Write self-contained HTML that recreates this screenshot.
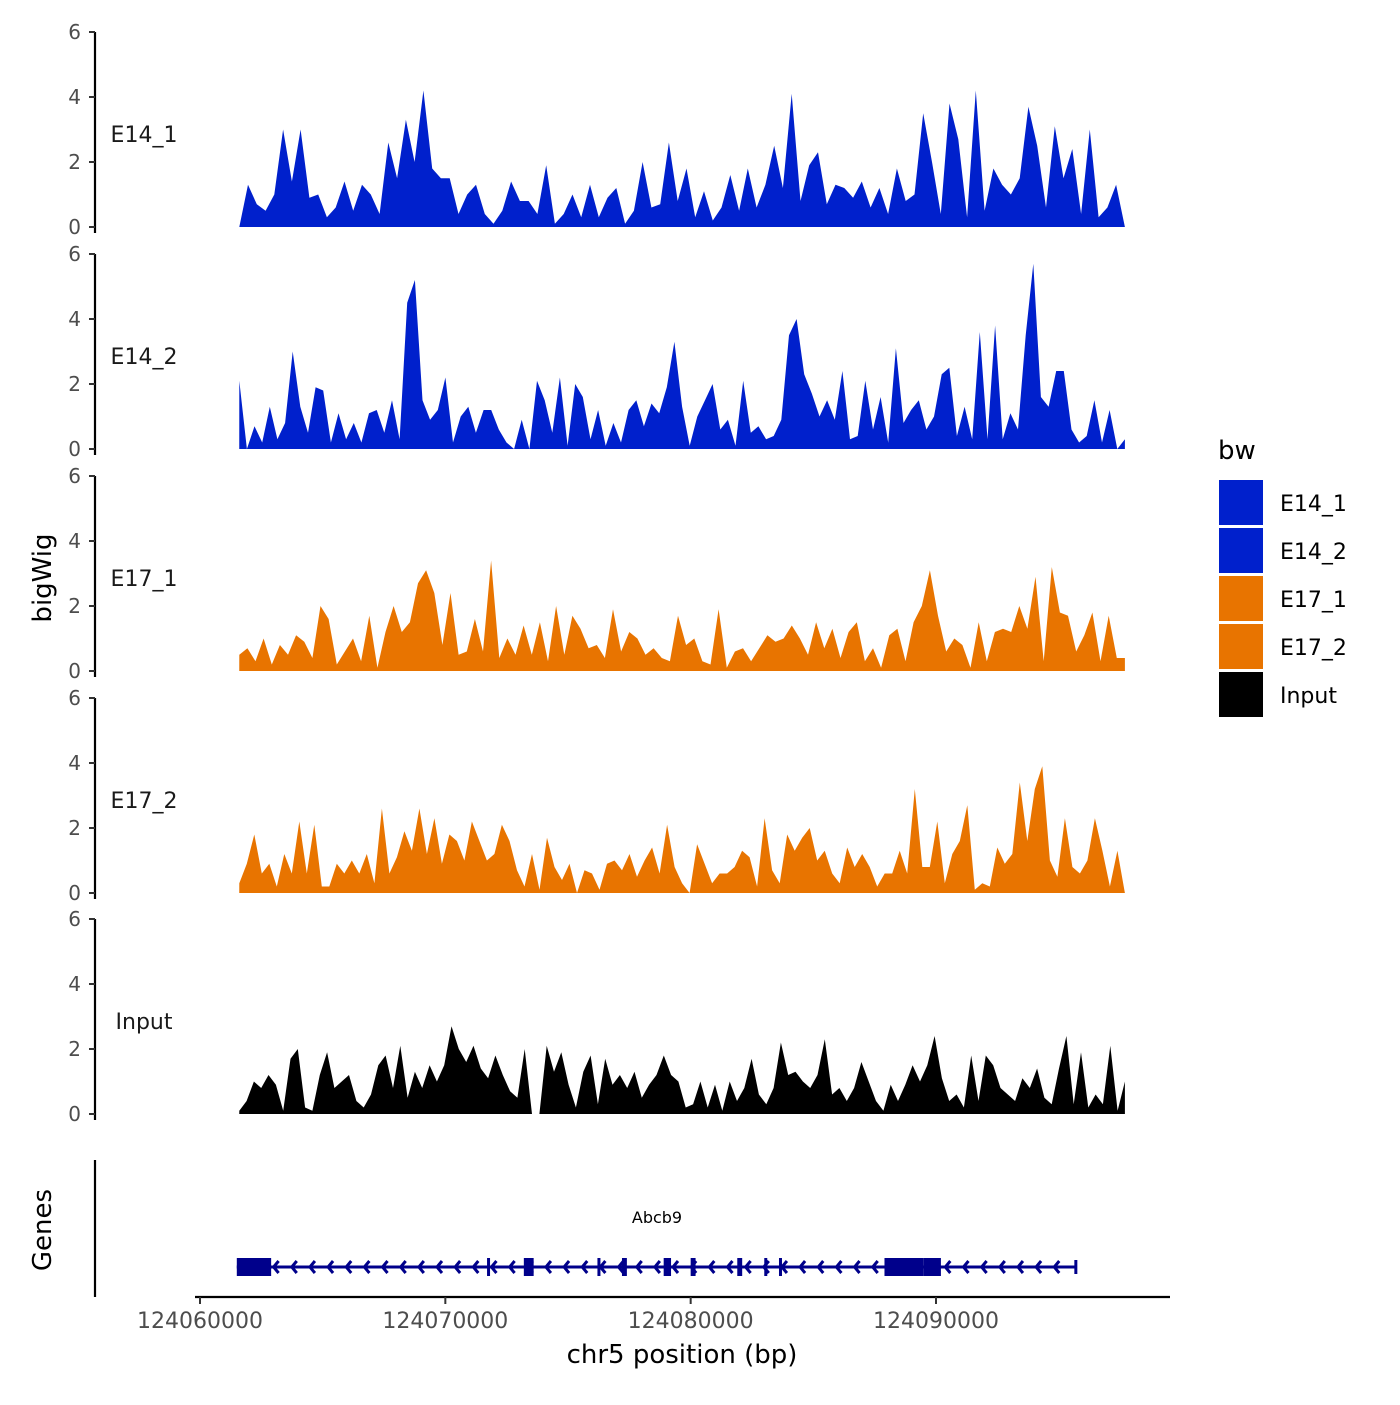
<!DOCTYPE html>
<html><head><meta charset="utf-8"><style>
body{margin:0;background:#fff;}
svg text{font-family:"DejaVu Sans","Liberation Sans",sans-serif;}
</style></head><body>
<svg id="chart" width="1400" height="1400" xmlns="http://www.w3.org/2000/svg">
<g id="tracks"></g>
<g id="genes"></g>
<g id="xaxis"></g>
<text x="51" y="578" font-size="26" text-anchor="middle" transform="rotate(-90 51 578)">bigWig</text>
<text x="51" y="1230" font-size="26" text-anchor="middle" transform="rotate(-90 51 1230)">Genes</text>
<text x="682" y="1363" font-size="26" text-anchor="middle">chr5 position (bp)</text>
<g id="legend"></g>
</svg>
<script>
const trackNames = ["E14_1","E14_2","E17_1","E17_2","Input"];
const trackColors = ["#0020CC","#0020CC","#E87400","#E87400","#000000"];
const yTicks = [0,2,4,6];
const xTicks = [124060000,124070000,124080000,124090000];
const xTickLabels = ["124060000","124070000","124080000","124090000"];
const dataStart = 124061600, dataEnd = 124097700;
const e14_1 = [0,1.3,0.7,0.5,1,3,1.4,3,0.9,1,0.3,0.6,1.4,0.5,1.3,1,0.4,2.6,1.5,3.3,2,4.2,1.8,1.5,1.5,0.4,1,1.3,0.4,0.1,0.5,1.4,0.8,0.8,0.4,1.9,0.1,0.4,1,0.3,1.3,0.3,0.9,1.2,0.1,0.5,2,0.6,0.7,2.6,0.8,1.8,0.3,1.1,0.2,0.6,1.6,0.5,1.8,0.6,1.3,2.5,1.2,4.1,0.8,1.9,2.3,0.7,1.3,1.2,0.9,1.4,0.6,1.2,0.4,1.8,0.8,1,3.5,2,0.4,3.8,2.7,0.3,4.2,0.5,1.8,1.3,1,1.5,3.7,2.5,0.6,3.1,1.5,2.4,0.4,3,0.3,0.6,1.3,0];
const e14_2 = [2.1,0,0.7,0.2,1.3,0.3,0.8,3,1.3,0.5,1.9,1.8,0.2,1.1,0.3,0.8,0.2,1.1,1.2,0.5,1.5,0.3,4.5,5.2,1.5,0.9,1.2,2.2,0.2,1,1.3,0.5,1.2,1.2,0.6,0.2,0,0.9,0,2.1,1.5,0.5,2.2,0.1,2,1.6,0.3,1.2,0.1,0.8,0.2,1.2,1.5,0.7,1.4,1.1,1.9,3.3,1.3,0.1,1,1.5,2,0.6,0.9,0.1,2.1,0.5,0.7,0.3,0.4,0.9,3.5,4,2.3,1.7,1,1.5,0.9,2.4,0.3,0.4,2.1,0.6,1.6,0.2,3.1,0.8,1.2,1.5,0.6,1,2.3,2.5,0.4,1.3,0.3,3.6,0.3,3.8,0.3,1.1,0.6,3.5,5.7,1.6,1.3,2.4,2.4,0.6,0.2,0.4,1.5,0.2,1.2,0,0.3];
const e17_1 = [0.5,0.7,0.3,1,0.2,0.8,0.5,1.1,0.9,0.4,2,1.6,0.2,0.6,1,0.3,1.7,0.1,1.2,2,1.2,1.5,2.7,3.1,2.4,0.8,2.4,0.5,0.6,1.6,0.6,3.4,0.4,1,0.5,1.4,0.5,1.5,0.3,2,0.5,1.7,1.3,0.7,0.8,0.4,1.9,0.6,1.2,1,0.5,0.7,0.4,0.3,1.7,0.8,1,0.3,0.2,1.9,0.1,0.6,0.7,0.3,0.7,1.1,0.9,1,1.4,1,0.5,1.5,0.7,1.3,0.4,1.2,1.5,0.3,0.7,0.1,1.1,1.3,0.3,1.5,2,3.1,1.7,0.6,1,0.8,0.1,1.5,0.3,1.2,1.3,1.2,2,1.3,2.9,0.3,3.2,1.8,1.7,0.6,1.1,1.8,0.3,1.7,0.4,0.4];
const e17_2 = [0.3,0.9,1.8,0.6,0.9,0.2,1.2,0.6,2.2,0.6,2.1,0.2,0.2,0.9,0.6,1,0.6,1.2,0.3,2.6,0.6,1.1,1.9,1.3,2.6,1.2,2.3,0.9,1.8,1.6,1,2.2,1.6,1,1.2,2.1,1.6,0.7,0.2,1.2,0.1,1.7,0.8,0.4,0.9,0,0.7,0.6,0.1,0.9,1,0.7,1.2,0.5,1,1.4,0.6,2.1,0.8,0.3,0,1.5,0.9,0.3,0.6,0.6,0.8,1.3,1.1,0.2,2.3,0.7,0.3,1.8,1.3,1.7,2,1,1.3,0.6,0.3,1.4,0.8,1.2,0.8,0.2,0.6,0.6,1.3,0.6,3.2,0.8,0.8,2.2,0.3,1.2,1.6,2.7,0.1,0.3,0.2,1.4,0.9,1.2,3.4,1.6,3.2,3.9,1,0.5,2.3,0.8,0.6,1,2.3,1.3,0.2,1.3,0];
const input = [0.1,0.4,1,0.8,1.2,0.9,0.1,1.7,2,0.2,0.1,1.2,1.9,0.8,1,1.2,0.4,0.2,0.6,1.5,1.8,0.8,2.1,0.5,1.3,0.8,1.5,1,1.5,2.7,2,1.6,2.1,1.4,1.1,1.8,1.2,0.7,0.5,2,0,0,2.1,1.3,1.9,0.9,0.2,1.3,1.8,0.3,1.7,0.9,1.2,0.8,1.3,0.5,0.9,1.2,1.8,1.2,1,0.2,0.3,1,0.2,0.9,0.1,1,0.4,0.8,1.7,0.6,0.3,0.8,2.2,1.2,1.3,1,0.8,1.2,2.3,0.6,0.8,0.4,0.8,1.6,1,0.4,0.1,0.9,0.4,0.9,1.5,1,1.5,2.4,1.1,0.4,0.6,0.2,1.8,0.4,1.8,1.5,0.8,0.6,0.4,1.1,0.8,1.4,0.5,0.3,1.4,2.4,0.3,1.9,0.2,0.6,0.3,2.1,0.1,1];
const trackData = [e14_1,e14_2,e17_1,e17_2,input];
const geneStart = 124061500, geneEnd = 124095700;
const exonStarts = [124061500,124071700,124073200,124076200,124077200,124078900,124080000,124081900,124083000,124083600,124087900,124089500];
const exonEnds   = [124062900,124071800,124073600,124076300,124077400,124079200,124080200,124082100,124083100,124083700,124089500,124090200];

const NS="http://www.w3.org/2000/svg";
function mk(tag,attrs,parent){const e=document.createElementNS(NS,tag);for(const k in attrs)e.setAttribute(k,attrs[k]);parent.appendChild(e);return e;}
const xScale = bp => 200 + (bp-124060000)*(936-200)/30000;
const trackTop = [32,254,476,698,919];
const trackH = 195;
const tracksG = document.getElementById('tracks');
trackData.forEach((vals,t)=>{
  const g = mk('g',{},tracksG);
  
  
  const y0 = trackTop[t]+trackH;
  const yS = v => y0 - v*trackH/6;
  const ax = mk('line',{x1:95,x2:95,y1:trackTop[t],y2:y0+6,stroke:'#000','stroke-width':2.2},g);
  
  
  yTicks.forEach(v=>{
    const tk = mk('line',{x1:89,x2:95,y1:yS(v),y2:yS(v),stroke:'#333','stroke-width':2},g);
    
    
    const tl = mk('text',{x:81,y:yS(v)+7,'font-size':20,fill:'#4d4d4d','text-anchor':'end'},g);
    tl.textContent=v;
    
    
  });
  const lab = mk('text',{x:144,y:trackTop[t]+110,'font-size':22,'text-anchor':'middle',fill:'#1a1a1a'},g);
  lab.textContent = trackNames[t];
  
  
  const n = vals.length, step=(dataEnd-dataStart)/(n-1);
  let d = 'M'+xScale(dataStart)+','+y0;
  vals.forEach((v,i)=>{ d += ' L'+xScale(dataStart+i*step).toFixed(1)+','+yS(v).toFixed(1); });
  d += ' L'+xScale(dataEnd)+','+y0+' Z';
  const area = mk('path',{d:d,fill:trackColors[t]},g);
  
  
});
const gg = document.getElementById('genes');
const gax = mk('line',{x1:95,x2:95,y1:1160,y2:1297,stroke:'#000','stroke-width':2.2},gg);


const gy=1267;
const gl = mk('line',{x1:xScale(geneStart),x2:xScale(geneEnd),y1:gy,y2:gy,stroke:'#00008B','stroke-width':3},gg);


for(let bp=geneStart+1500; bp<geneEnd-300; bp+=740){
  const x=xScale(bp);
  const a = mk('path',{d:`M${x+5},${gy-6} L${x},${gy} L${x+5},${gy+6}`,fill:'none',stroke:'#00008B','stroke-width':3},gg);
  
  
}
mk('line',{x1:xScale(geneEnd),x2:xScale(geneEnd),y1:gy-7,y2:gy+7,stroke:'#00008B','stroke-width':3},gg);
exonStarts.forEach((s,i)=>{
  const x1=xScale(s), x2=xScale(exonEnds[i]);
  const r = mk('rect',{x:x1,y:gy-9,width:Math.max(3,x2-x1),height:18,fill:'#00008B'},gg);
  
  
});
const gn = mk('text',{x:657,y:1223,'font-size':16,'text-anchor':'middle'},gg);
gn.textContent='Abcb9';


const xg=document.getElementById('xaxis');
const xl = mk('line',{x1:195,x2:1170,y1:1297,y2:1297,stroke:'#000','stroke-width':2.2},xg);


xTicks.forEach((bp,i)=>{
  const x=xScale(bp);
  const tk=mk('line',{x1:x,x2:x,y1:1297,y2:1304,stroke:'#333','stroke-width':2},xg);
  
  
  const tl=mk('text',{x:x,y:1328,'font-size':22,fill:'#4d4d4d','text-anchor':'middle'},xg);
  tl.textContent=xTickLabels[i];
  
  
});
const lg=document.getElementById('legend');
const lt=mk('text',{x:1218,y:459,'font-size':26},lg);
lt.textContent='bw';


trackNames.forEach((nm,i)=>{
  const y=480+i*48;
  const r=mk('rect',{x:1219,y:y,width:44,height:45,fill:trackColors[i]},lg);
  
  
  const t=mk('text',{x:1280,y:y+31,'font-size':22},lg);
  t.textContent=nm;
  
  
});
</script>
</body></html>
